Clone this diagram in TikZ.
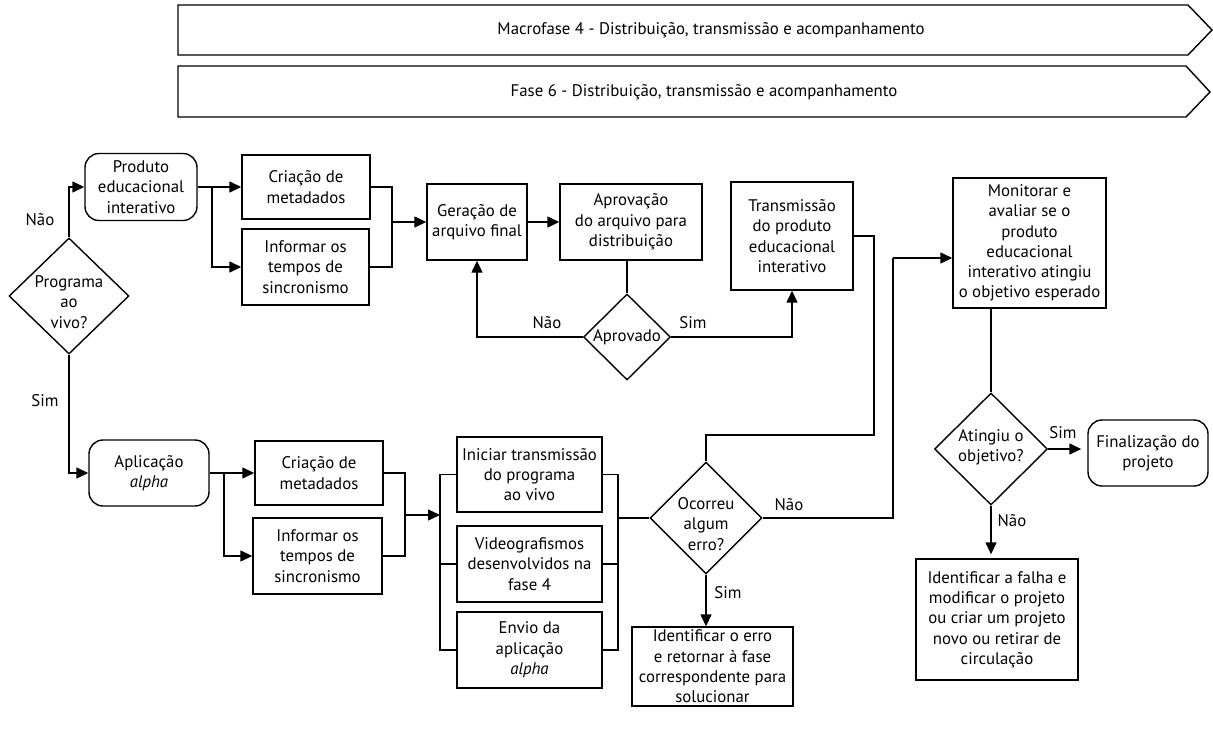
\documentclass[tikz,border=0pt]{standalone}
\usepackage{fontspec}
\setmainfont{PT Sans}
\usetikzlibrary{shapes.geometric,arrows.meta,calc}
\begin{document}
\begin{tikzpicture}[x=1pt,y=-1pt,
  line width=1.4pt,
  every node/.style={font=\fontsize{16.8}{20.3}\selectfont},
  box/.style={draw, align=center, inner sep=0pt},
  rbox/.style={box, rounded corners=14pt},
  dec/.style={draw, diamond, inner sep=0pt},
  txt/.style={align=center, inner sep=0pt},
  arr/.style={-{Triangle[length=12pt,width=11pt]}},
  lab/.style={inner sep=0pt},
]
\useasboundingbox (0,0) rectangle (1213,734);

% phase banners
\draw (178,5) -- (1188,5) -- (1212,30) -- (1188,55) -- (178,55) -- cycle;
\node[txt] (macro) at (711,30) {Macrofase 4 - Distribuição, transmissão e acompanhamento};
\draw (178,66) -- (1186,66) -- (1210,92) -- (1186,117) -- (178,117) -- cycle;
\node[txt] (fase) at (704,92) {Fase 6 - Distribuição, transmissão e acompanhamento};

% decision: live programme?
\node[dec, minimum width=120, minimum height=116] (prog) at (69,296) {};
\node[txt] (progt) at (69,302) {Programa\\ao\\vivo?};

% upper branch: interactive product
\node[rbox, minimum width=112, minimum height=67] (prod) at (141,187) {Produto\\educacional\\interativo};
\node[box, minimum width=128, minimum height=64] (cria1) at (306,187) {Criação de\\metadados};
\node[box, minimum width=127, minimum height=76] (inf1) at (305.5,267) {Informar os\\tempos de\\sincronismo};
\node[box, minimum width=100, minimum height=76] (ger) at (477,222) {Geração de\\arquivo final};
\node[box, minimum width=142, minimum height=76] (apr) at (631,222) {Aprovação\\do arquivo para\\distribuição};
\node[dec, minimum width=87, minimum height=86] (aprov) at (627,337) {};
\node[txt] (aprovt) at (627,337) {Aprovado};
\node[box, minimum width=122, minimum height=108] (trans) at (792,236) {Transmissão\\do produto\\educacional\\interativo};

% lower branch: alpha application
\node[rbox, minimum width=120, minimum height=66] (apl) at (149,473) {Aplicação\\\textit{alpha}};
\node[box, minimum width=128, minimum height=64] (cria2) at (319,473) {Criação de\\metadados};
\node[box, minimum width=129, minimum height=76] (inf2) at (317.5,556) {Informar os\\tempos de\\sincronismo};
\node[box, minimum width=145, minimum height=75] (ini) at (529.5,474.5) {Iniciar transmissão\\do programa\\ao vivo};
\node[box, minimum width=145, minimum height=76] (vid) at (529.5,564) {Videografismos\\desenvolvidos na\\fase 4};
\node[box, minimum width=145, minimum height=76] (env) at (529.5,650) {Envio da\\aplicação\\\textit{alpha}};
\node[dec, minimum width=112, minimum height=112] (ocor) at (706,518) {};
\node[txt] (ocort) at (706,524) {Ocorreu\\algum\\erro?};
\node[box, minimum width=161, minimum height=79] (err) at (712.5,666.5) {Identificar o erro\\e retornar à fase\\correspondente para\\solucionar};

% monitoring
\node[box, minimum width=153, minimum height=130] (mon) at (1029.5,243) {Monitorar e\\avaliar se o\\produto\\educacional\\interativo atingiu\\o objetivo esperado};
\node[dec, minimum width=113, minimum height=112] (ating) at (991,449) {};
\node[txt] (atingt) at (991,447) {Atingiu o\\objetivo?};
\node[rbox, minimum width=120, minimum height=66] (fin) at (1148,453) {Finalização do\\projeto};
\node[box, minimum width=162, minimum height=121] (falha) at (997,619.5) {Identificar a falha e\\modificar o projeto\\ou criar um projeto\\novo ou retirar de\\circulação};

% junction points
\coordinate (j1) at (212,187);
\coordinate (j2) at (392,222);
\coordinate (j3) at (224,473);
\coordinate (m2) at (405,515);
\coordinate (lbx) at (440,0);
\coordinate (rbx) at (618,0);
\coordinate (t1) at (874,435);
\coordinate (n1) at (893,258);

% connectors: decision on live programme
\draw[arr] (prog.north) |- (prod.west);
\node[lab] (nao1) at (40,220) {Não};
\draw[arr] (prog.south) |- (apl.west);
\node[lab] (sim1) at (45,401) {Sim};

% upper branch
\draw (prod.east) -- (j1);
\draw[arr] (j1) -- (cria1.west);
\draw[arr] (j1) |- (inf1.west);
\draw (cria1.east) -- (cria1.east -| j2) -- (inf1.east -| j2) -- (inf1.east);
\draw[arr] (j2) -- (ger.west);
\draw[arr] (ger.east) -- (apr.west);
\draw (apr.south -| aprov.north) -- (aprov.north);
\draw[arr] (aprov.west) -| (ger.south);
\node[lab] (nao2) at (547,323) {Não};
\draw[arr] (aprov.east) -| (trans.south);
\node[lab] (sim2) at (693,323) {Sim};
\draw (trans.east) -| (t1) -| (ocor.north);

% lower branch
\draw (apl.east) -- (j3);
\draw[arr] (j3) -- (cria2.west);
\draw[arr] (j3) |- (inf2.west);
\draw (cria2.east) -- (cria2.east -| m2) -- (inf2.east -| m2) -- (inf2.east);
\draw[arr] (m2) -- (m2 -| lbx);
\draw (ini.west) -- (ini.west -| lbx) -- (env.west -| lbx) -- (env.west);
\draw (vid.west) -- (vid.west -| lbx);
\draw (ini.east) -- (ini.east -| rbx) -- (env.east -| rbx) -- (env.east);
\draw (vid.east) -- (vid.east -| rbx);
\draw (ocor.west -| rbx) -- (ocor.west);

% error decision
\draw (ocor.east) -| (n1);
\draw[arr] (n1) -- (n1 -| mon.west);
\node[lab] (nao3) at (789,505) {Não};
\draw[arr] (ocor.south) -- (ocor.south |- err.north);
\node[lab] (sim3) at (728,593) {Sim};

% objective decision
\draw (mon.south -| ating.north) -- (ating.north);
\draw[arr, shorten >=6pt] (ating.east) -- (ating.east -| fin.west);
\node[lab] (sim4) at (1063,433) {Sim};
\draw[arr, shorten >=4pt] (ating.south) -- (ating.south |- falha.north);
\node[lab] (nao4) at (1012,521) {Não};
\end{tikzpicture}
\end{document}
